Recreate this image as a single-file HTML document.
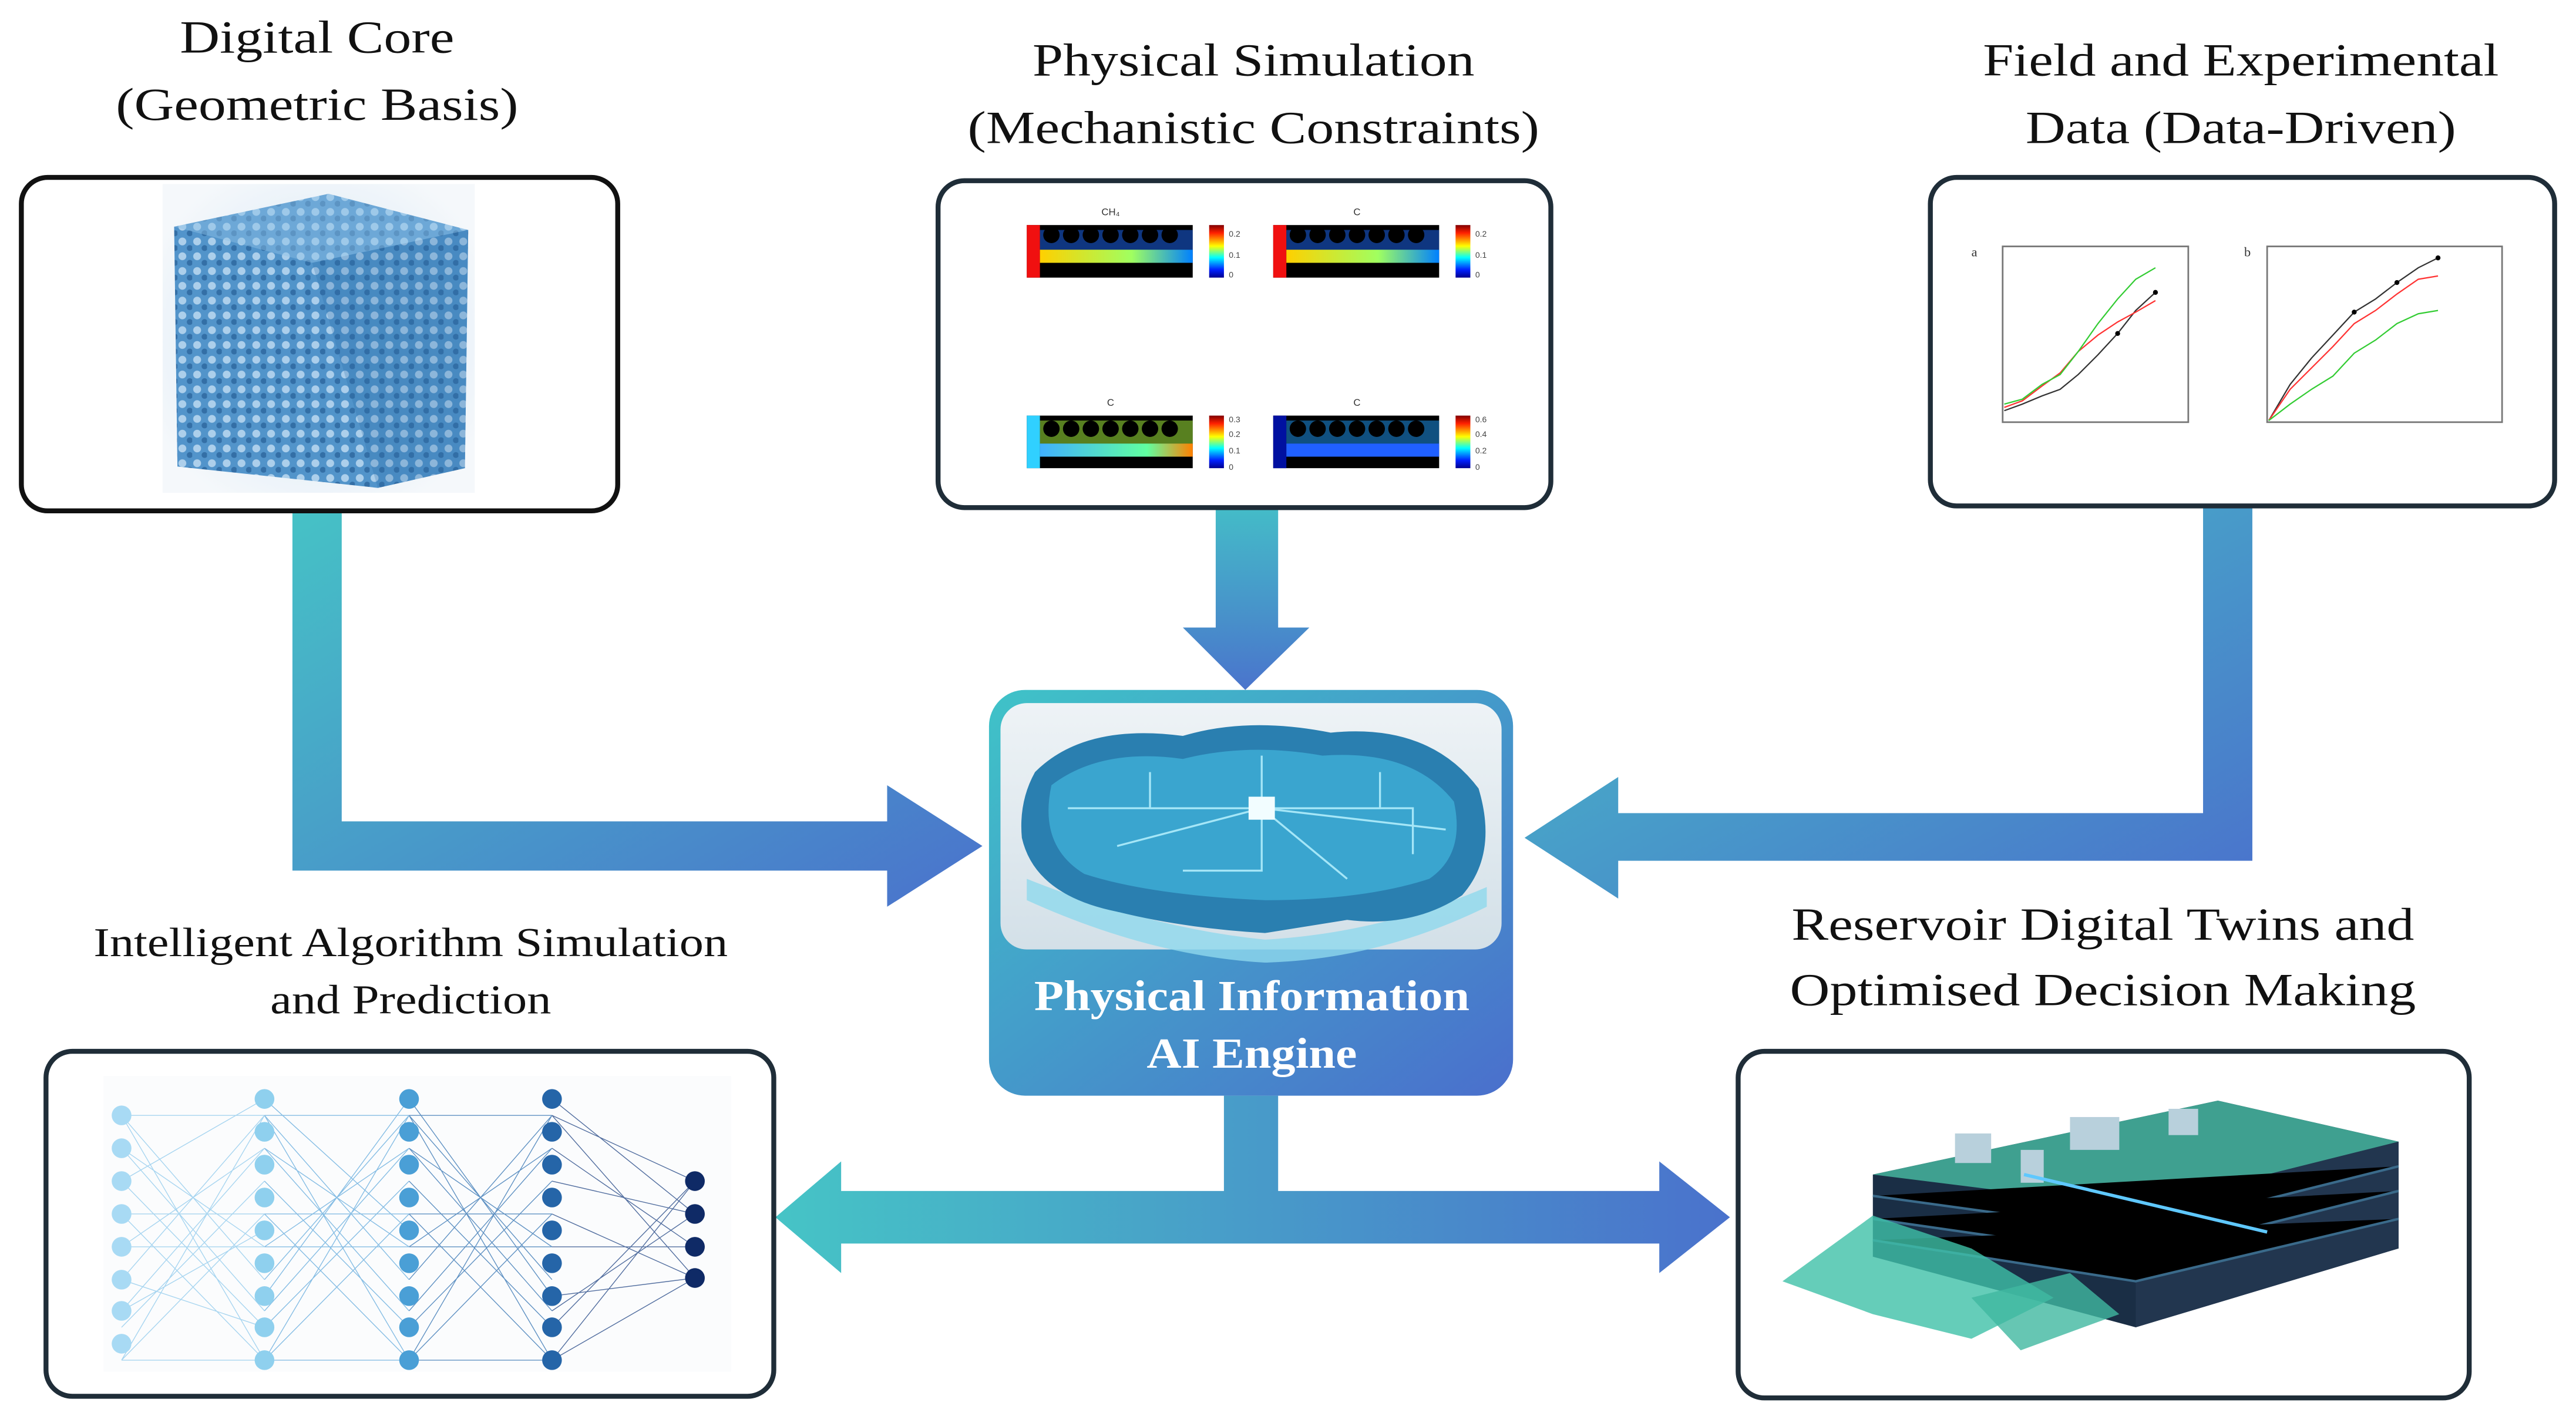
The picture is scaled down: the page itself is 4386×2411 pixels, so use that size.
<!DOCTYPE html>
<html><head><meta charset="utf-8"><style>
html,body{margin:0;padding:0;background:#fff;}
svg{display:block;}
</style></head><body>
<svg width="4386" height="2411" viewBox="0 0 1568 862" preserveAspectRatio="none" xmlns="http://www.w3.org/2000/svg" font-family="'Liberation Serif','DejaVu Serif',serif">
<defs>
<linearGradient id="ga" x1="0" y1="0" x2="1" y2="1"><stop offset="0" stop-color="#46c2c6"/><stop offset="1" stop-color="#4a72cc"/></linearGradient>
<linearGradient id="gv" x1="0" y1="0" x2="0" y2="1"><stop offset="0" stop-color="#44bcc8"/><stop offset="1" stop-color="#4a74cc"/></linearGradient>
<linearGradient id="gh" x1="0" y1="0" x2="1" y2="0"><stop offset="0" stop-color="#46c4c6"/><stop offset="1" stop-color="#4a72cc"/></linearGradient>
<linearGradient id="gc" x1="0" y1="0" x2="1" y2="1"><stop offset="0" stop-color="#3fc3c8"/><stop offset="1" stop-color="#4a6fcc"/></linearGradient>
<linearGradient id="jet" x1="0" y1="1" x2="0" y2="0"><stop offset="0" stop-color="#00008f"/><stop offset=".15" stop-color="#0020ff"/><stop offset=".38" stop-color="#00ffff"/><stop offset=".6" stop-color="#ffff00"/><stop offset=".85" stop-color="#ff2000"/><stop offset="1" stop-color="#800000"/></linearGradient>
<linearGradient id="hm1" x1="0" y1="0" x2="1" y2="0"><stop offset="0" stop-color="#ffd000"/><stop offset=".6" stop-color="#a0ff60"/><stop offset="1" stop-color="#0080ff"/></linearGradient>
<linearGradient id="hm3" x1="0" y1="0" x2="1" y2="0"><stop offset="0" stop-color="#40b0ff"/><stop offset=".7" stop-color="#60ffa0"/><stop offset="1" stop-color="#ff8000"/></linearGradient>
<linearGradient id="brain" x1="0" y1="0" x2="0" y2="1"><stop offset="0" stop-color="#eef3f6"/><stop offset="1" stop-color="#d3e0e8"/></linearGradient>
<radialGradient id="core" cx=".5" cy=".5" r=".6"><stop offset="0" stop-color="#cfe3f3"/><stop offset="1" stop-color="#f5f8fb"/></radialGradient>
<pattern id="pores" width="9" height="9" patternUnits="userSpaceOnUse"><rect width="9" height="9" fill="#4a8fc8"/><circle cx="3" cy="3" r="2.4" fill="#a9cdea"/><circle cx="7.5" cy="7" r="1.8" fill="#2a68a2"/></pattern>
</defs>

<g font-size="28" text-anchor="middle" fill="#111" lengthAdjust="spacingAndGlyphs">
<text x="193" y="32" textLength="167" lengthAdjust="spacingAndGlyphs">Digital Core</text>
<text x="193" y="73" textLength="245" lengthAdjust="spacingAndGlyphs">(Geometric Basis)</text>
<text x="763" y="46" textLength="269" lengthAdjust="spacingAndGlyphs">Physical Simulation</text>
<text x="763" y="87" textLength="348" lengthAdjust="spacingAndGlyphs">(Mechanistic Constraints)</text>
<text x="1364" y="46" textLength="314" lengthAdjust="spacingAndGlyphs">Field and Experimental</text>
<text x="1364" y="87" textLength="262" lengthAdjust="spacingAndGlyphs">Data (Data-Driven)</text>
<text x="1280" y="572" textLength="379" lengthAdjust="spacingAndGlyphs">Reservoir Digital Twins and</text>
<text x="1280" y="612" textLength="381" lengthAdjust="spacingAndGlyphs">Optimised Decision Making</text>
</g>
<g font-size="25" text-anchor="middle" fill="#111">
<text x="250" y="582" textLength="386" lengthAdjust="spacingAndGlyphs">Intelligent Algorithm Simulation</text>
<text x="250" y="617" textLength="171" lengthAdjust="spacingAndGlyphs">and Prediction</text>
</g>

<path d="M178 311 H208 V500 H540 V478 L598 515 L540 552 V530 H178 Z" fill="url(#ga)"/>
<path d="M740 309 H778 V382 H797 L758 420 L720 382 H740 Z" fill="url(#gv)"/>
<path d="M1341 308 H1371 V524 H985 V547 L928 510 L985 473 V495 H1341 Z" fill="url(#ga)"/>
<path d="M745 667 H778 V725 H1010 V707 L1053 741 L1010 775 V757 H512 V775 L472 741 L512 707 V725 H745 Z" fill="url(#gh)"/>

<rect x="13" y="108" width="363" height="203" rx="16" fill="#fff" stroke="#111" stroke-width="3"/>
<rect x="99" y="112" width="190" height="188" fill="url(#core)"/>
<path d="M106 138 L200 118 L285 140 L283 285 L230 297 L108 284 Z" fill="url(#pores)" opacity=".95"/>
<path d="M106 138 L200 118 L285 140 L190 160 Z" fill="#8fc0e6" opacity=".45"/>
<path d="M190 160 L285 140 L283 285 L230 297 Z" fill="#2a6aa8" opacity=".25"/>

<rect x="571" y="110" width="373" height="199" rx="16" fill="#fff" stroke="#1f2d38" stroke-width="3"/>
<g font-family="Liberation Sans,sans-serif" font-size="6" fill="#333" text-anchor="middle">
<text x="676" y="131">CH₄</text><text x="826" y="131">C</text>
<text x="676" y="247">C</text><text x="826" y="247">C</text>
</g>
<g>
<rect x="625" y="137" width="101" height="32" fill="#000"/><rect x="625" y="137" width="8" height="32" fill="#f01010"/>
<rect x="633" y="152" width="93" height="8" fill="url(#hm1)"/>
<rect x="775" y="137" width="101" height="32" fill="#000"/><rect x="775" y="137" width="8" height="32" fill="#f01010"/>
<rect x="783" y="152" width="93" height="8" fill="url(#hm1)"/>
<rect x="625" y="253" width="101" height="32" fill="#000"/><rect x="625" y="253" width="8" height="32" fill="#30d0ff"/>
<rect x="633" y="270" width="93" height="8" fill="url(#hm3)"/>
<rect x="775" y="253" width="101" height="32" fill="#000"/><rect x="775" y="253" width="8" height="32" fill="#0010a0"/>
<rect x="783" y="270" width="93" height="8" fill="#2060ff"/>
<rect x="633" y="140" width="93" height="12" fill="#1e6cff" opacity=".5"/>
<rect x="783" y="140" width="93" height="12" fill="#1e6cff" opacity=".5"/>
<rect x="633" y="256" width="93" height="14" fill="#b0ff40" opacity=".5"/>
<rect x="783" y="256" width="93" height="14" fill="#20a0ff" opacity=".5"/>
<g fill="#000">
<circle cx="640" cy="143" r="5"/><circle cx="652" cy="143" r="5"/><circle cx="664" cy="143" r="5"/><circle cx="676" cy="143" r="5"/><circle cx="688" cy="143" r="5"/><circle cx="700" cy="143" r="5"/><circle cx="712" cy="143" r="5"/>
<circle cx="790" cy="143" r="5"/><circle cx="802" cy="143" r="5"/><circle cx="814" cy="143" r="5"/><circle cx="826" cy="143" r="5"/><circle cx="838" cy="143" r="5"/><circle cx="850" cy="143" r="5"/><circle cx="862" cy="143" r="5"/>
<circle cx="640" cy="261" r="5"/><circle cx="652" cy="261" r="5"/><circle cx="664" cy="261" r="5"/><circle cx="676" cy="261" r="5"/><circle cx="688" cy="261" r="5"/><circle cx="700" cy="261" r="5"/><circle cx="712" cy="261" r="5"/>
<circle cx="790" cy="261" r="5"/><circle cx="802" cy="261" r="5"/><circle cx="814" cy="261" r="5"/><circle cx="826" cy="261" r="5"/><circle cx="838" cy="261" r="5"/><circle cx="850" cy="261" r="5"/><circle cx="862" cy="261" r="5"/>
</g>
<rect x="736" y="137" width="9" height="32" fill="url(#jet)"/><rect x="886" y="137" width="9" height="32" fill="url(#jet)"/>
<rect x="736" y="253" width="9" height="32" fill="url(#jet)"/><rect x="886" y="253" width="9" height="32" fill="url(#jet)"/>
</g>
<g font-family="Liberation Sans,sans-serif" font-size="5" fill="#444">
<text x="748" y="144">0.2</text><text x="748" y="157">0.1</text><text x="748" y="169">0</text>
<text x="898" y="144">0.2</text><text x="898" y="157">0.1</text><text x="898" y="169">0</text>
<text x="748" y="257">0.3</text><text x="748" y="266">0.2</text><text x="748" y="276">0.1</text><text x="748" y="286">0</text>
<text x="898" y="257">0.6</text><text x="898" y="266">0.4</text><text x="898" y="276">0.2</text><text x="898" y="286">0</text>
</g>

<rect x="1175" y="108" width="380" height="200" rx="16" fill="#fff" stroke="#1f2d38" stroke-width="3"/>
<g fill="none" stroke="#777" stroke-width="1">
<rect x="1219" y="150" width="113" height="107"/><rect x="1380" y="150" width="143" height="107"/>
</g>
<text x="1200" y="156" font-size="8" fill="#333">a</text><text x="1366" y="156" font-size="8" fill="#333">b</text>
<g fill="none" stroke-width=".8">
<polyline points="1220,250 1231,246 1243,241 1254,237 1265,228 1277,216 1289,203 1300,189 1312,178" stroke="#333"/>
<polyline points="1220,248 1231,244 1243,235 1254,227 1265,214 1277,204 1289,196 1300,190 1312,183" stroke="#f33"/>
<polyline points="1220,246 1231,243 1243,234 1254,228 1265,214 1277,197 1289,182 1300,170 1312,163" stroke="#3c3"/>
<polyline points="1381,256 1394,234 1407,218 1420,204 1433,190 1446,182 1459,172 1472,163 1484,157" stroke="#333"/>
<polyline points="1381,256 1394,237 1407,224 1420,211 1433,197 1446,189 1459,179 1472,170 1484,168" stroke="#f33"/>
<polyline points="1381,256 1394,246 1407,237 1420,229 1433,215 1446,207 1459,197 1472,191 1484,189" stroke="#3c3"/>
</g>
<g fill="#000"><circle cx="1312" cy="178" r="1.5"/><circle cx="1289" cy="203" r="1.5"/><circle cx="1484" cy="157" r="1.5"/><circle cx="1459" cy="172" r="1.5"/><circle cx="1433" cy="190" r="1.5"/></g>

<rect x="602" y="420" width="319" height="247" rx="22" fill="url(#gc)"/>
<rect x="609" y="428" width="305" height="150" rx="16" fill="url(#brain)"/>
<path d="M625 535 Q700 565 770 572 Q840 568 905 540 L905 552 Q840 584 770 586 Q700 582 625 548 Z" fill="#8fd8ec" opacity=".8"/>
<path d="M630 470 Q660 440 720 448 Q760 436 810 446 Q870 440 900 480 Q912 520 890 545 Q860 565 820 560 L770 568 Q720 565 680 555 Q630 545 622 510 Q620 488 630 470 Z" fill="#2a7fb0"/>
<path d="M640 478 Q670 455 720 462 Q760 452 805 460 Q860 456 885 488 Q892 520 870 535 Q830 548 770 548 Q700 545 660 532 Q632 515 640 478 Z" fill="#3aa5cf"/>
<g stroke="#b8f2ff" stroke-width="1.2" fill="none" opacity=".85">
<path d="M768 492 H700 V470"/><path d="M768 492 V460"/><path d="M768 492 H840 V470"/><path d="M768 492 V530 H720"/><path d="M768 492 H860 V520"/><path d="M768 492 L680 515"/><path d="M768 492 L820 535"/><path d="M768 492 H650"/><path d="M768 492 L880 505"/>
</g>
<rect x="760" y="485" width="16" height="14" fill="#f2fdff"/>
<g font-size="26" font-weight="bold" fill="#fff" text-anchor="middle">
<text x="762" y="615" textLength="265" lengthAdjust="spacingAndGlyphs">Physical Information</text>
<text x="762" y="650" textLength="128" lengthAdjust="spacingAndGlyphs">AI Engine</text>
</g>

<rect x="28" y="640" width="443" height="210" rx="16" fill="#fff" stroke="#1f2d38" stroke-width="3"/>
<rect x="63" y="655" width="382" height="180" fill="#fbfcfd"/>
<g stroke-width=".5" opacity=".75">
<g stroke="#8cc8ec">
<path d="M74 679 L161 679 M74 679 L161 828 M74 828 L161 679 M74 828 L161 828 M74 699 L161 759 M74 759 L161 699 M74 719 L161 808 M74 808 L161 719 M74 739 L161 739 M74 779 L161 679 M74 679 L161 779 M74 798 L161 699 M74 699 L161 798 M74 739 L161 828 M74 828 L161 739 M74 759 L161 759 M74 719 L161 669 M74 779 L161 808 M74 798 L161 749"/>
</g>
<g stroke="#5fa9dc">
<path d="M161 679 L249 679 M161 679 L249 828 M161 828 L249 679 M161 828 L249 828 M161 699 L249 759 M161 759 L249 699 M161 719 L249 808 M161 808 L249 719 M161 739 L249 739 M161 779 L249 679 M161 679 L249 779 M161 798 L249 699 M161 699 L249 798 M161 739 L249 828 M161 828 L249 739 M161 759 L249 759 M161 669 L249 749 M161 789 L249 669"/>
</g>
<g stroke="#2d6fb0">
<path d="M249 679 L336 679 M249 679 L336 828 M249 828 L336 679 M249 828 L336 828 M249 699 L336 759 M249 759 L336 699 M249 719 L336 808 M249 808 L336 719 M249 739 L336 739 M249 779 L336 679 M249 679 L336 779 M249 798 L336 699 M249 699 L336 798 M249 739 L336 828 M249 828 L336 739 M249 759 L336 759 M249 669 L336 789"/>
</g>
<g stroke="#1a3f80">
<path d="M336 679 L423 719 M336 679 L423 778 M336 828 L423 719 M336 828 L423 778 M336 719 L423 739 M336 759 L423 759 M336 798 L423 739 M336 739 L423 778 M336 699 L423 759 M336 808 L423 719 M336 669 L423 739 M336 789 L423 778"/>
</g>
</g>
<g fill="#a8daf4"><circle cx="74" cy="679" r="6"/><circle cx="74" cy="699" r="6"/><circle cx="74" cy="719" r="6"/><circle cx="74" cy="739" r="6"/><circle cx="74" cy="759" r="6"/><circle cx="74" cy="779" r="6"/><circle cx="74" cy="798" r="6"/><circle cx="74" cy="818" r="6"/></g>
<g fill="#8fd0ee"><circle cx="161" cy="669" r="6"/><circle cx="161" cy="689" r="6"/><circle cx="161" cy="709" r="6"/><circle cx="161" cy="729" r="6"/><circle cx="161" cy="749" r="6"/><circle cx="161" cy="769" r="6"/><circle cx="161" cy="789" r="6"/><circle cx="161" cy="808" r="6"/><circle cx="161" cy="828" r="6"/></g>
<g fill="#4a9fd6"><circle cx="249" cy="669" r="6"/><circle cx="249" cy="689" r="6"/><circle cx="249" cy="709" r="6"/><circle cx="249" cy="729" r="6"/><circle cx="249" cy="749" r="6"/><circle cx="249" cy="769" r="6"/><circle cx="249" cy="789" r="6"/><circle cx="249" cy="808" r="6"/><circle cx="249" cy="828" r="6"/></g>
<g fill="#2565a8"><circle cx="336" cy="669" r="6"/><circle cx="336" cy="689" r="6"/><circle cx="336" cy="709" r="6"/><circle cx="336" cy="729" r="6"/><circle cx="336" cy="749" r="6"/><circle cx="336" cy="769" r="6"/><circle cx="336" cy="789" r="6"/><circle cx="336" cy="808" r="6"/><circle cx="336" cy="828" r="6"/></g>
<g fill="#0f2a66"><circle cx="423" cy="719" r="6"/><circle cx="423" cy="739" r="6"/><circle cx="423" cy="759" r="6"/><circle cx="423" cy="778" r="6"/></g>

<rect x="1058" y="640" width="445" height="211" rx="16" fill="#fff" stroke="#1f2d38" stroke-width="3"/>
<path d="M1140 715 L1350 670 L1460 695 L1460 760 L1300 808 L1140 765 Z" fill="#1a2e45"/>
<path d="M1140 715 L1350 670 L1460 695 L1300 735 Z" fill="#3fa090"/>
<path d="M1300 735 L1460 695 L1460 760 L1300 808 Z" fill="#22364f"/>
<g stroke="#3a6a8a" stroke-width="1.5"><path d="M1140 728 L1300 750 L1460 710"/><path d="M1140 742 L1300 765 L1460 725"/><path d="M1140 755 L1300 780 L1460 742"/></g>
<g fill="#b8d0dc"><rect x="1190" y="690" width="22" height="18"/><rect x="1260" y="680" width="30" height="20"/><rect x="1320" y="675" width="18" height="16"/><rect x="1230" y="700" width="14" height="20"/></g>
<path d="M1232 715 L1380 750" stroke="#5fc8ff" stroke-width="2"/>
<path d="M1085 780 L1140 740 L1200 760 L1250 790 L1200 815 L1140 800 Z" fill="#3ec0a8" opacity=".8"/>
<path d="M1200 790 L1260 775 L1290 800 L1230 822 Z" fill="#40b8a0" opacity=".8"/>
</svg>
</body></html>
